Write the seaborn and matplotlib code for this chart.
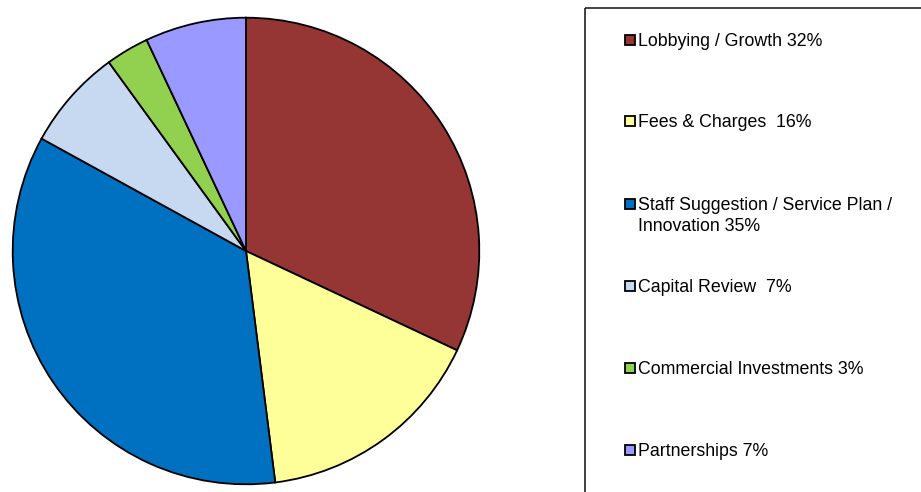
import matplotlib
matplotlib.use("Agg")
import matplotlib.pyplot as plt
from matplotlib.patches import Rectangle
import seaborn as sns

# Savings categories and their share of the total (%)
categories = [
    "Lobbying / Growth 32%",
    "Fees & Charges  16%",
    "Staff Suggestion / Service Plan /\nInnovation 35%",
    "Capital Review  7%",
    "Commercial Investments 3%",
    "Partnerships 7%",
]
shares = [32, 16, 35, 7, 3, 7]
colors = ["#963634", "#FFFF99", "#0070C0", "#C6D9F1", "#92D050", "#9999FF"]

sns.set_theme(style="white")
plt.rcParams["font.family"] = ["Liberation Sans", "DejaVu Sans"]

W, H = 921, 492
fig = plt.figure(figsize=(W / 100, H / 100), dpi=100)
fig.patch.set_facecolor("white")

# Pie, centred at (246, 251) px with radius 234 px
cx, cy, r = 246, 251, 234
ax = fig.add_axes([(cx - r) / W, (H - cy - r) / H, 2 * r / W, 2 * r / H])
ax.pie(
    shares,
    colors=colors,
    startangle=90,
    counterclock=False,
    radius=1.0,
    wedgeprops=dict(edgecolor="black", linewidth=1.3),
)
ax.set_xlim(-1.003, 1.003)
ax.set_ylim(-1.003, 1.003)
ax.set_aspect("equal")
ax.axis("off")

# Legend panel in pixel coordinates
lax = fig.add_axes([0, 0, 1, 1], facecolor="none")
lax.set_xlim(0, W)
lax.set_ylim(H, 0)
lax.axis("off")
lax.add_patch(Rectangle((585, 8), 400, 520, fill=False, edgecolor="#222222",
                        linewidth=1.2))

entry_y = [40, 121, 204, 286, 368, 450]
for label, col, y in zip(categories, colors, entry_y):
    lax.add_patch(Rectangle((625, y - 5), 10, 10, facecolor=col,
                            edgecolor="black", linewidth=1.3))
    lax.text(638, y - 7, label, fontsize=12.8, color="black",
             va="top", ha="left", linespacing=1.3)

fig.savefig("out.png", dpi=100, facecolor="white")
